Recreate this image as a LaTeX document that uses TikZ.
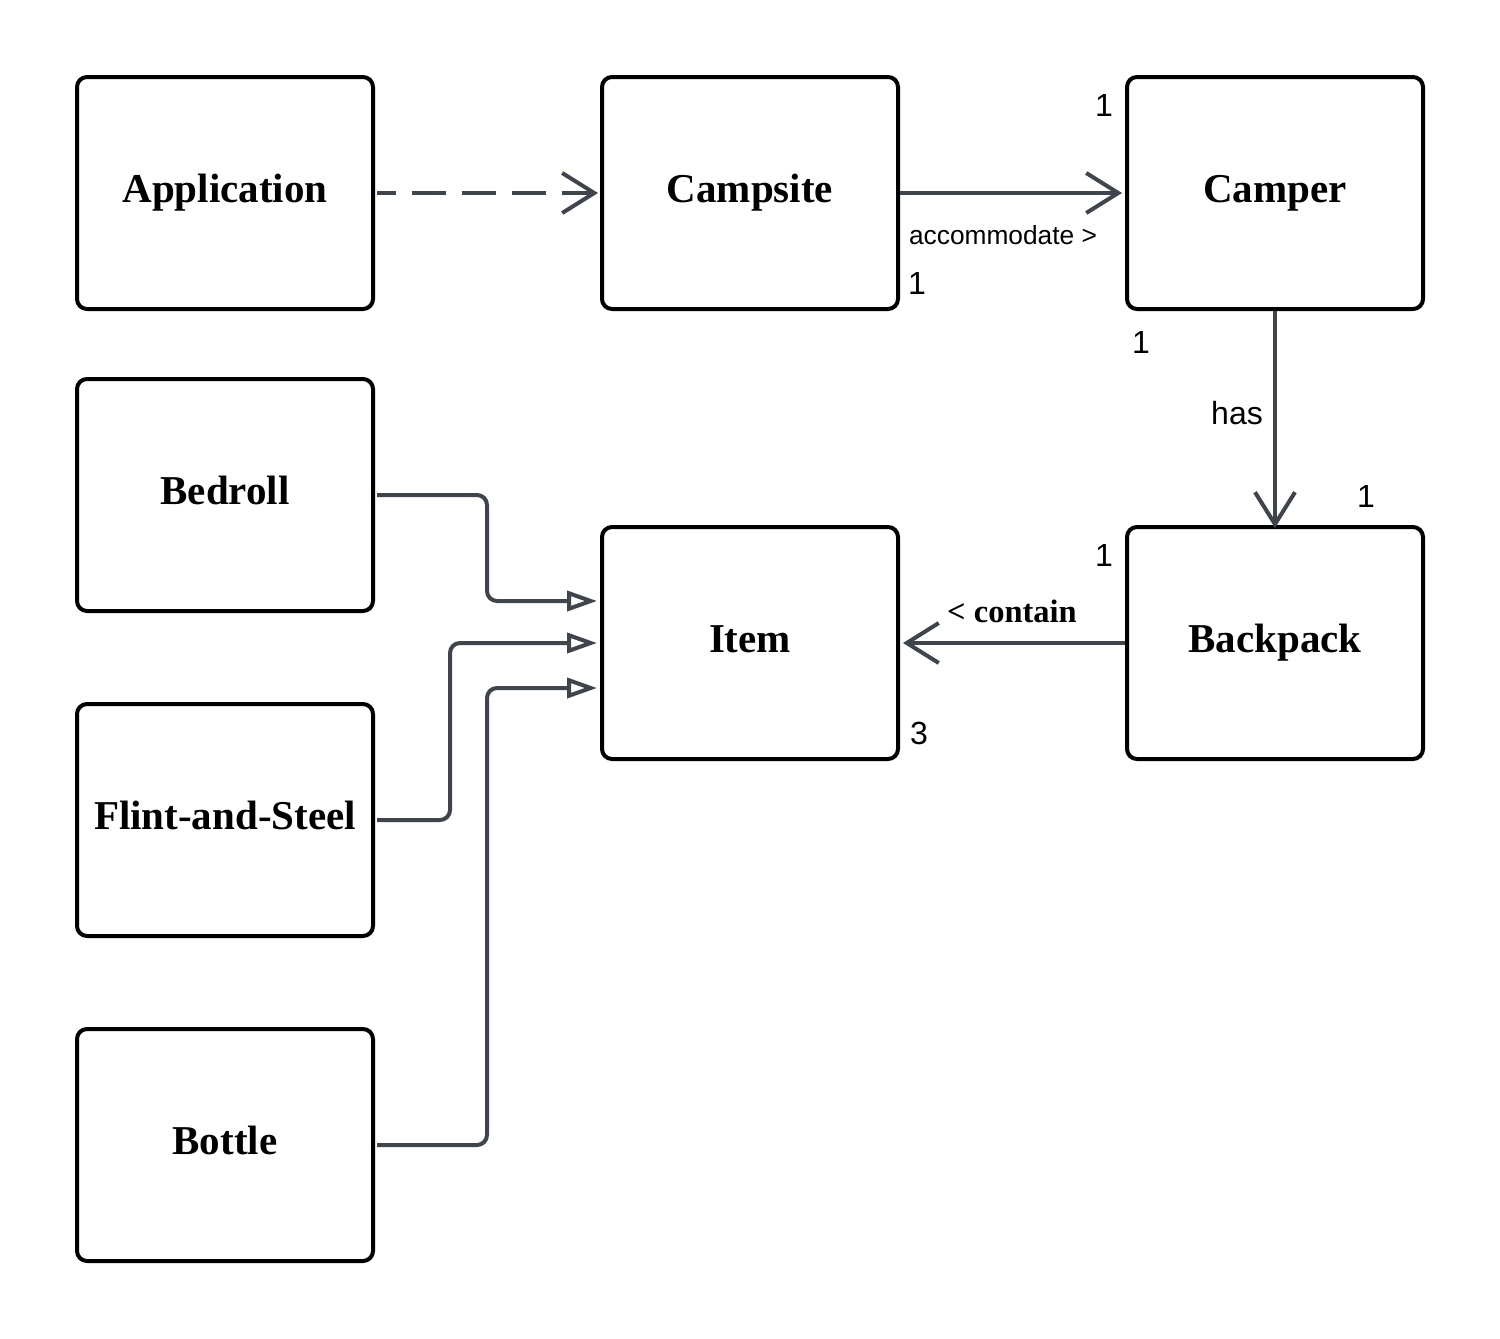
\documentclass[tikz,border=0pt]{standalone}
\usepackage{fontspec}
\setmainfont{Liberation Serif}
\newfontfamily\labelfont{Liberation Sans}
\usetikzlibrary{arrows.meta}
\definecolor{conncol}{HTML}{3F444D}
\begin{document}
\begin{tikzpicture}[x=1pt,y=-1pt,
  cls/.style={draw=black, line width=4pt, rounded corners=10pt, minimum width=296pt, minimum height=232pt,
    font=\fontsize{41}{45}\selectfont\bfseries, text height=27pt, text depth=9pt, inner sep=0pt},
  conn/.style={draw=conncol, line width=4pt},
  vee/.style={-{Straight Barb[length=32pt,width=40pt]}},
  tri/.style={-{Triangle[open,length=30pt,width=20pt,fill=white]}},
  mult/.style={font=\labelfont\fontsize{32}{36}\selectfont, inner sep=0pt},
  small/.style={font=\labelfont\fontsize{26.3}{30}\selectfont, inner sep=0pt},
  serlbl/.style={font=\fontsize{32.5}{36}\selectfont\bfseries, inner sep=0pt}
]
\useasboundingbox (0,0) rectangle (1500,1339);
\fill[white] (0,0) rectangle (1500,1339);

\node[cls] (app) at (225,193) {Application};
\node[cls] (site) at (750,193) {Campsite};
\node[cls] (camper) at (1275,193) {Camper};
\node[cls] (bed) at (225,495) {Bedroll};
\node[cls] (item) at (750,643) {Item};
\node[cls] (pack) at (1275,643) {Backpack};
\node[cls] (flint) at (225,820) {Flint-and-Steel};
\node[cls] (bottle) at (225,1145) {Bottle};

% dependency
\draw[conn, vee, dash pattern=on 34pt off 16pt, dash phase=15pt] ([xshift=2pt]app.east) -- ([xshift=-2pt]site.west);
% associations
\draw[conn, vee] (site.east) -- ([xshift=-3pt]camper.west);
\draw[conn, vee] (camper.south) -- ([yshift=-3pt]pack.north);
\draw[conn, vee] (pack.west) -- ([xshift=3pt]item.west -| item.east);

% generalisations
\coordinate (b1) at (487,601);
\coordinate (f1) at (450,643);
\coordinate (t1) at (487,688);
\draw[conn, tri, rounded corners=10pt] ([xshift=2pt]bed.east) -| (b1) -- ([xshift=-3pt]item.west |- b1);
\draw[conn, tri, rounded corners=10pt] ([xshift=2pt]flint.east) -| (f1) -- ([xshift=-3pt]item.west |- f1);
\draw[conn, tri, rounded corners=10pt] ([xshift=2pt]bottle.east) -| (t1) -- ([xshift=-3pt]item.west |- t1);

% labels
\node[small] (acc) at (1003,235) {accommodate >};
\node[mult] (m1) at (1104,105) {1};
\node[mult] (m2) at (917,283) {1};
\node[mult] (m3) at (1141,342) {1};
\node[mult] (has) at (1237,413) {has};
\node[mult] (m4) at (1366,496) {1};
\node[mult] (m5) at (1104,555) {1};
\node[serlbl] (cont) at (1012,611) {< contain};
\node[mult] (m6) at (919,733) {3};
\end{tikzpicture}
\end{document}
